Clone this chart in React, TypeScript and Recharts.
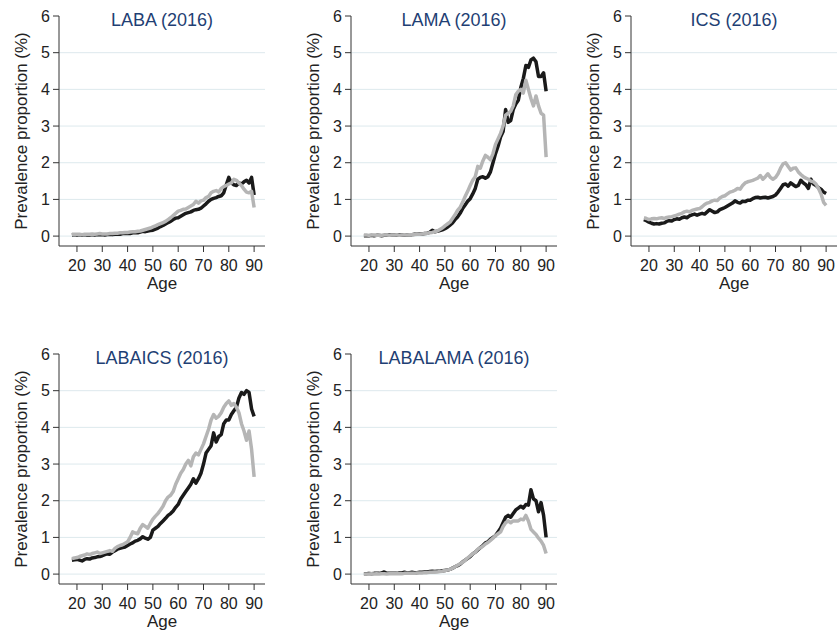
import { CartesianGrid, Line, LineChart, XAxis, YAxis } from "recharts";

const ages = [
  18, 19, 20, 21, 22, 23, 24, 25, 26, 27, 28, 29, 30, 31, 32, 33, 34, 35, 36, 37, 38, 39, 40, 41, 42, 43, 44, 45,
  46, 47, 48, 49, 50, 51, 52, 53, 54, 55, 56, 57, 58, 59, 60, 61, 62, 63, 64, 65, 66, 67, 68, 69, 70, 71, 72, 73,
  74, 75, 76, 77, 78, 79, 80, 81, 82, 83, 84, 85, 86, 87, 88, 89, 90,
];

const xTicks = [20, 30, 40, 50, 60, 70, 80, 90];
const yTicks = [0, 1, 2, 3, 4, 5, 6];

const labaBlack = [
  0.03, 0.04, 0.03, 0.04, 0.03, 0.04, 0.03, 0.03, 0.04, 0.03, 0.04, 0.04,
  0.04, 0.03, 0.04, 0.05, 0.04, 0.05, 0.06, 0.05, 0.07, 0.07,
  0.08, 0.07, 0.09, 0.1, 0.09, 0.11, 0.13, 0.12, 0.14, 0.15,
  0.16, 0.19, 0.22, 0.26, 0.29, 0.33, 0.37, 0.4, 0.45, 0.49,
  0.5, 0.54, 0.58, 0.62, 0.64, 0.66, 0.7, 0.72, 0.73, 0.76,
  0.82, 0.88, 0.95, 1.0, 1.03, 1.05, 1.08, 1.1, 1.18, 1.4,
  1.6, 1.45, 1.4, 1.38, 1.45, 1.42, 1.48, 1.52, 1.45, 1.6, 1.12,
];
const labaGray = [
  0.05, 0.05, 0.05, 0.05, 0.04, 0.05, 0.05, 0.05, 0.06, 0.05, 0.06, 0.07,
  0.06, 0.06, 0.06, 0.07, 0.07, 0.08, 0.08, 0.09, 0.09, 0.1,
  0.1, 0.11, 0.12, 0.12, 0.13, 0.14, 0.16, 0.18, 0.2, 0.22,
  0.25, 0.28, 0.31, 0.34, 0.37, 0.4, 0.45, 0.5, 0.56, 0.62,
  0.68, 0.7, 0.73, 0.74, 0.78, 0.82, 0.86, 0.95, 0.9, 0.96,
  0.98, 1.05, 1.08, 1.18, 1.22, 1.24, 1.2, 1.3, 1.35, 1.38,
  1.42, 1.45, 1.55, 1.52, 1.45, 1.38, 1.28, 1.2, 1.18, 1.22, 0.78,
];

const lamaBlack = [
  0.01, 0.01, 0.01, 0.02, 0.01, 0.02, 0.02, 0.01, 0.02, 0.02, 0.03, 0.03,
  0.03, 0.02, 0.03, 0.03, 0.02, 0.03, 0.04, 0.04, 0.05, 0.05,
  0.06, 0.06, 0.07, 0.08, 0.1, 0.16, 0.12, 0.13, 0.15, 0.17,
  0.2, 0.24, 0.3, 0.36, 0.45, 0.52, 0.62, 0.75, 0.85, 0.95,
  1.02, 1.15, 1.3, 1.55, 1.6, 1.62, 1.58, 1.62, 1.75, 2.0,
  2.25, 2.45, 2.7, 2.85, 3.45, 3.1, 3.15, 3.45, 3.6, 3.7,
  4.05, 4.3, 4.65, 4.6, 4.8, 4.85, 4.75, 4.35, 4.35, 4.45, 3.95,
];
const lamaGray = [
  0.03, 0.03, 0.02, 0.03, 0.03, 0.02, 0.03, 0.02, 0.03, 0.03, 0.02, 0.03,
  0.03, 0.03, 0.02, 0.03, 0.03, 0.03, 0.04, 0.04, 0.04, 0.05,
  0.05, 0.06, 0.07, 0.08, 0.09, 0.1, 0.12, 0.14, 0.18, 0.22,
  0.28, 0.33, 0.38, 0.48, 0.58, 0.7, 0.78, 0.92, 1.08, 1.22,
  1.38, 1.52, 1.62, 1.9, 1.85, 2.05, 2.2, 2.15, 2.08, 2.25,
  2.5, 2.65, 2.8, 3.0, 3.3, 3.35, 3.4, 3.55, 3.85, 3.95,
  4.0, 3.9, 4.25, 4.0, 3.75, 3.55, 3.82, 3.55, 3.35, 3.3, 2.15,
];

const icsBlack = [
  0.45, 0.42, 0.38, 0.35, 0.33, 0.34, 0.33, 0.35, 0.36, 0.4, 0.42, 0.41,
  0.45, 0.47, 0.46, 0.5, 0.52, 0.5, 0.55, 0.58, 0.6, 0.57,
  0.6, 0.62, 0.6, 0.66, 0.72, 0.68, 0.64, 0.66, 0.72, 0.75,
  0.78, 0.82, 0.86, 0.9, 0.96, 0.92, 0.9, 0.95, 0.94, 0.98,
  0.98, 1.02, 1.05, 1.06, 1.04, 1.05, 1.06, 1.04, 1.06, 1.08,
  1.12, 1.2, 1.3, 1.4, 1.42, 1.36, 1.45, 1.4, 1.35, 1.38,
  1.52, 1.45, 1.4, 1.3, 1.55, 1.42, 1.38, 1.32, 1.28, 1.2, 1.16,
];
const icsGray = [
  0.5, 0.48, 0.45, 0.47, 0.48, 0.47, 0.49, 0.5, 0.48, 0.51, 0.52, 0.53,
  0.55, 0.57, 0.6, 0.62, 0.66, 0.68, 0.66, 0.7, 0.72, 0.74,
  0.75, 0.8, 0.86, 0.9, 0.92, 0.96, 0.98, 0.97, 1.04, 1.08,
  1.1, 1.15, 1.2, 1.22, 1.25, 1.3, 1.28, 1.38, 1.45, 1.48,
  1.5, 1.52, 1.55, 1.58, 1.65, 1.55, 1.62, 1.7, 1.6, 1.55,
  1.6, 1.7, 1.85, 1.97, 2.0, 1.9, 1.8, 1.85, 1.86, 1.75,
  1.68, 1.62, 1.58, 1.55, 1.5, 1.48, 1.42, 1.3, 1.15, 0.92, 0.84,
];

const labaIcsBlack = [
  0.38, 0.39, 0.4, 0.38, 0.36, 0.4, 0.42, 0.41, 0.44, 0.45, 0.47, 0.48,
  0.5, 0.53, 0.55, 0.54, 0.6, 0.64, 0.68, 0.7, 0.72, 0.74,
  0.78, 0.82, 0.85, 0.9, 0.92, 0.96, 1.02, 0.98, 0.95, 1.0,
  1.2, 1.25, 1.3, 1.38, 1.45, 1.52, 1.6, 1.65, 1.72, 1.82,
  1.9, 2.05, 2.15, 2.25, 2.35, 2.45, 2.6, 2.48, 2.6, 2.75,
  3.0, 3.3, 3.4, 3.5, 3.85, 3.6, 3.75, 3.8, 4.1, 4.2,
  4.2, 4.35, 4.45, 4.55, 4.8, 4.95, 4.9, 5.0, 4.95, 4.5, 4.3,
];
const labaIcsGray = [
  0.42, 0.44, 0.45, 0.48, 0.5, 0.52, 0.55, 0.53, 0.56, 0.58, 0.6, 0.56,
  0.58, 0.6, 0.62, 0.64, 0.62, 0.7, 0.75, 0.78, 0.8, 0.84,
  0.88, 1.0, 1.15, 1.12, 1.1, 1.25, 1.35, 1.3, 1.25, 1.38,
  1.5, 1.58, 1.65, 1.75, 1.85, 2.0, 2.1, 2.15, 2.25, 2.45,
  2.6, 2.75, 2.85, 3.0, 3.1, 2.95, 3.2, 3.3, 3.25, 3.4,
  3.55, 3.75, 3.95, 4.2, 4.35, 4.25, 4.3, 4.4, 4.55, 4.65,
  4.72, 4.6, 4.65, 4.55, 4.4, 4.1, 3.9, 3.65, 3.9, 3.4, 2.65,
];

const labaLamaBlack = [
  0.01, 0.01, 0.02, 0.01, 0.02, 0.02, 0.02, 0.03, 0.06, 0.02, 0.02, 0.02,
  0.02, 0.02, 0.03, 0.03, 0.05, 0.03, 0.04, 0.05, 0.04, 0.04,
  0.05, 0.05, 0.06, 0.06, 0.07, 0.08, 0.07, 0.08, 0.08, 0.09,
  0.1, 0.11, 0.13, 0.16, 0.2, 0.23, 0.27, 0.33, 0.38, 0.43,
  0.48, 0.55, 0.6, 0.66, 0.72, 0.78, 0.85, 0.88, 0.95, 1.0,
  1.05, 1.15, 1.25, 1.4, 1.55, 1.6, 1.55, 1.65, 1.75, 1.8,
  1.85, 1.8, 1.9, 1.88, 2.3, 2.05, 2.0, 1.7, 1.95, 1.6, 1.0,
];
const labaLamaGray = [
  0.0, 0.0, 0.0, 0.01, 0.0, 0.01, 0.0, 0.01, 0.01, 0.0, 0.01, 0.01,
  0.01, 0.01, 0.01, 0.01, 0.02, 0.02, 0.02, 0.02, 0.02, 0.03,
  0.03, 0.03, 0.04, 0.04, 0.05, 0.05, 0.06, 0.06, 0.07, 0.08,
  0.1, 0.11, 0.13, 0.16, 0.2, 0.24, 0.28, 0.32, 0.38, 0.44,
  0.5, 0.55, 0.6, 0.68, 0.72, 0.76, 0.82, 0.86, 0.92, 0.98,
  1.05, 1.1, 1.15, 1.3, 1.4, 1.45, 1.4, 1.45, 1.45, 1.45,
  1.5, 1.48, 1.6, 1.45, 1.22, 1.15, 1.08, 0.98, 0.9, 0.78, 0.56,
];

const FONT = '"Liberation Sans", Arial, sans-serif';
const TEXT = "#222";
const AXIS = "#333";

type PanelProps = {
  title: string;
  black: number[];
  gray: number[];
  left: number;
  top: number;
};

function Panel({ title, black, gray, left, top }: PanelProps) {
  const data = ages.map((age, i) => ({ age, black: black[i], gray: gray[i] }));

  return (
    <div style={{ position: "absolute", left, top, width: 280, height: 300 }}>
      <div
        style={{
          position: "absolute",
          left: 71,
          width: 206,
          top: 9,
          textAlign: "center",
          fontFamily: FONT,
          fontSize: 18,
          lineHeight: "22px",
          color: "#1f3f74",
          zIndex: 2,
        }}
      >
        {title}
      </div>
      <LineChart
        width={280}
        height={300}
        data={data}
        margin={{ top: 16, right: 3, bottom: 0, left: 0 }}
        style={{ fontFamily: FONT }}
      >
        <CartesianGrid
          vertical={false}
          horizontalValues={[0, 1, 2, 3, 4, 5]}
          stroke="#dde9ed"
        />
        <XAxis
          dataKey="age"
          type="number"
          domain={[12.9, 94.3]}
          ticks={xTicks}
          allowDataOverflow
          height={54}
          tickSize={6}
          tickMargin={8}
          stroke={AXIS}
          tick={{ fill: TEXT, fontSize: 16 }}
          label={{ value: "Age", position: "insideBottom", offset: 11, fill: TEXT, fontSize: 17 }}
        />
        <YAxis
          type="number"
          domain={[-0.27, 6]}
          ticks={yTicks}
          allowDataOverflow
          width={71}
          tickSize={6}
          tickMargin={3}
          stroke={AXIS}
          tick={{ fill: TEXT, fontSize: 16 }}
          label={{
            value: "Prevalence proportion (%)",
            angle: -90,
            position: "insideLeft",
            offset: 33,
            fill: TEXT,
            fontSize: 17,
            style: { textAnchor: "middle" },
          }}
        />
        <Line
          dataKey="black"
          type="linear"
          stroke="#1a1a1a"
          strokeWidth={3.5}
          dot={false}
          strokeLinejoin="round"
          isAnimationActive={false}
        />
        <Line
          dataKey="gray"
          type="linear"
          stroke="#b5b5b5"
          strokeWidth={3.5}
          dot={false}
          strokeLinejoin="round"
          isAnimationActive={false}
        />
      </LineChart>
    </div>
  );
}

export default function App() {
  return (
    <div
      style={{
        position: "absolute",
        left: 0,
        top: 0,
        width: 837,
        height: 631,
        overflow: "hidden",
        background: "#fff",
      }}
    >
      <Panel title="LABA (2016)" black={labaBlack} gray={labaGray} left={-12} top={0} />
      <Panel title="LAMA (2016)" black={lamaBlack} gray={lamaGray} left={280} top={0} />
      <Panel title="ICS (2016)" black={icsBlack} gray={icsGray} left={560} top={0} />
      <Panel title="LABAICS (2016)" black={labaIcsBlack} gray={labaIcsGray} left={-12} top={338} />
      <Panel title="LABALAMA (2016)" black={labaLamaBlack} gray={labaLamaGray} left={280} top={338} />
    </div>
  );
}
